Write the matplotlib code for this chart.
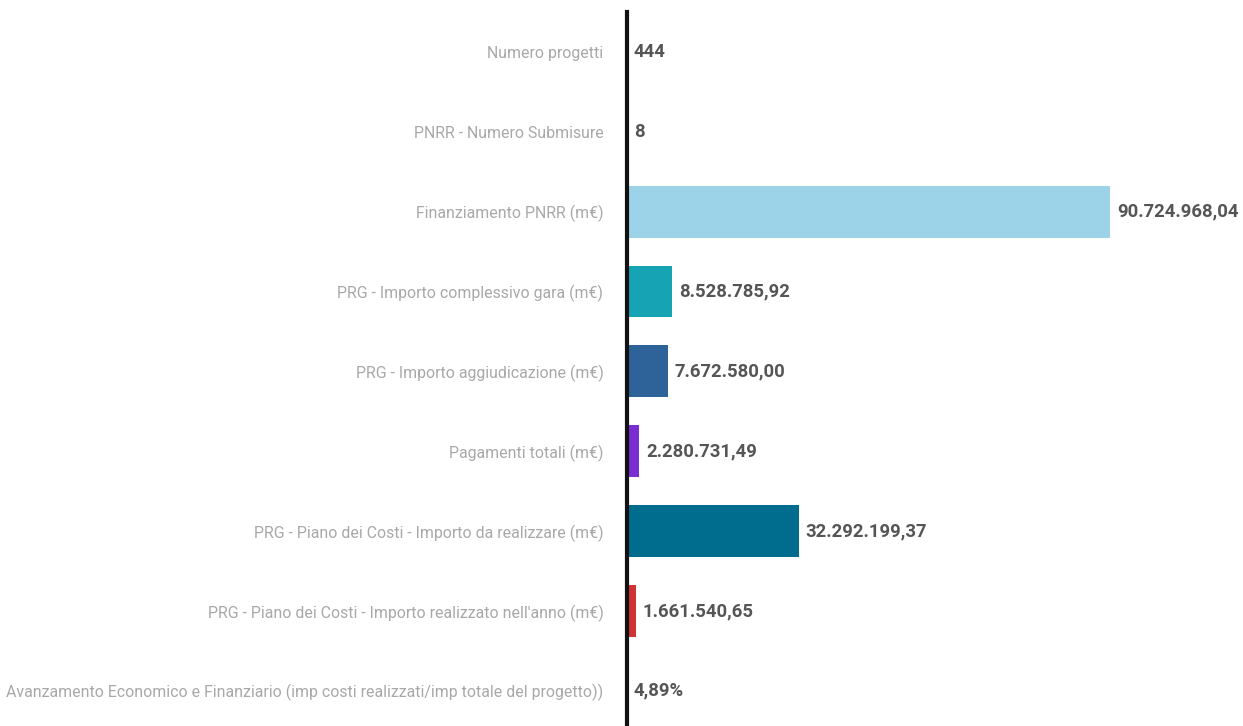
import matplotlib
matplotlib.use("Agg")
import matplotlib.pyplot as plt

# data
labels = [
    "Numero progetti",
    "PNRR - Numero Submisure",
    "Finanziamento PNRR (m€)",
    "PRG - Importo complessivo gara (m€)",
    "PRG - Importo aggiudicazione (m€)",
    "Pagamenti totali (m€)",
    "PRG - Piano dei Costi - Importo da realizzare (m€)",
    "PRG - Piano dei Costi - Importo realizzato nell'anno (m€)",
    "Avanzamento Economico e Finanziario (imp costi realizzati/imp totale del progetto))",
]
values = [444, 8, 90724968.04, 8528785.92, 7672580.00, 2280731.49,
          32292199.37, 1661540.65, 0.0489]
value_text = ["444", "8", "90.724.968,04", "8.528.785,92", "7.672.580,00",
              "2.280.731,49", "32.292.199,37", "1.661.540,65", "4,89%"]
colors = ["#ffffff", "#ffffff", "#9dd3e8", "#16a3b3", "#2d6399",
          "#7a2ed2", "#006c8e", "#d13232", "#ffffff"]

plt.rcParams['font.family'] = ['Roboto', 'DejaVu Sans']

fig = plt.figure(figsize=(12.43, 7.26), dpi=100)
ax = fig.add_axes([627 / 1243, 0.0, 1 - 627 / 1243, 1 - 12 / 726])

y = list(range(len(labels)))
ax.barh(y, values, height=0.65, color=colors)
ax.set_xlim(0, 115.7e6)
ax.set_ylim(8.44, -0.5)

for yi, v, t in zip(y, values, value_text):
    ax.annotate(t, (v, yi), xytext=(5, 0), textcoords="offset points",
                va="center", ha="left", fontsize=13.3, fontweight="bold",
                color="#555555")

ax.set_yticks(y)
ax.set_yticklabels(labels, fontsize=11.4, color="#a8a8a8")
ax.tick_params(axis="y", length=0, pad=17)
ax.set_xticks([])
for s in ["top", "right", "bottom"]:
    ax.spines[s].set_visible(False)
ax.spines["left"].set_linewidth(3)
ax.spines["left"].set_color("#111111")

fig.savefig("out.png", dpi=100)
